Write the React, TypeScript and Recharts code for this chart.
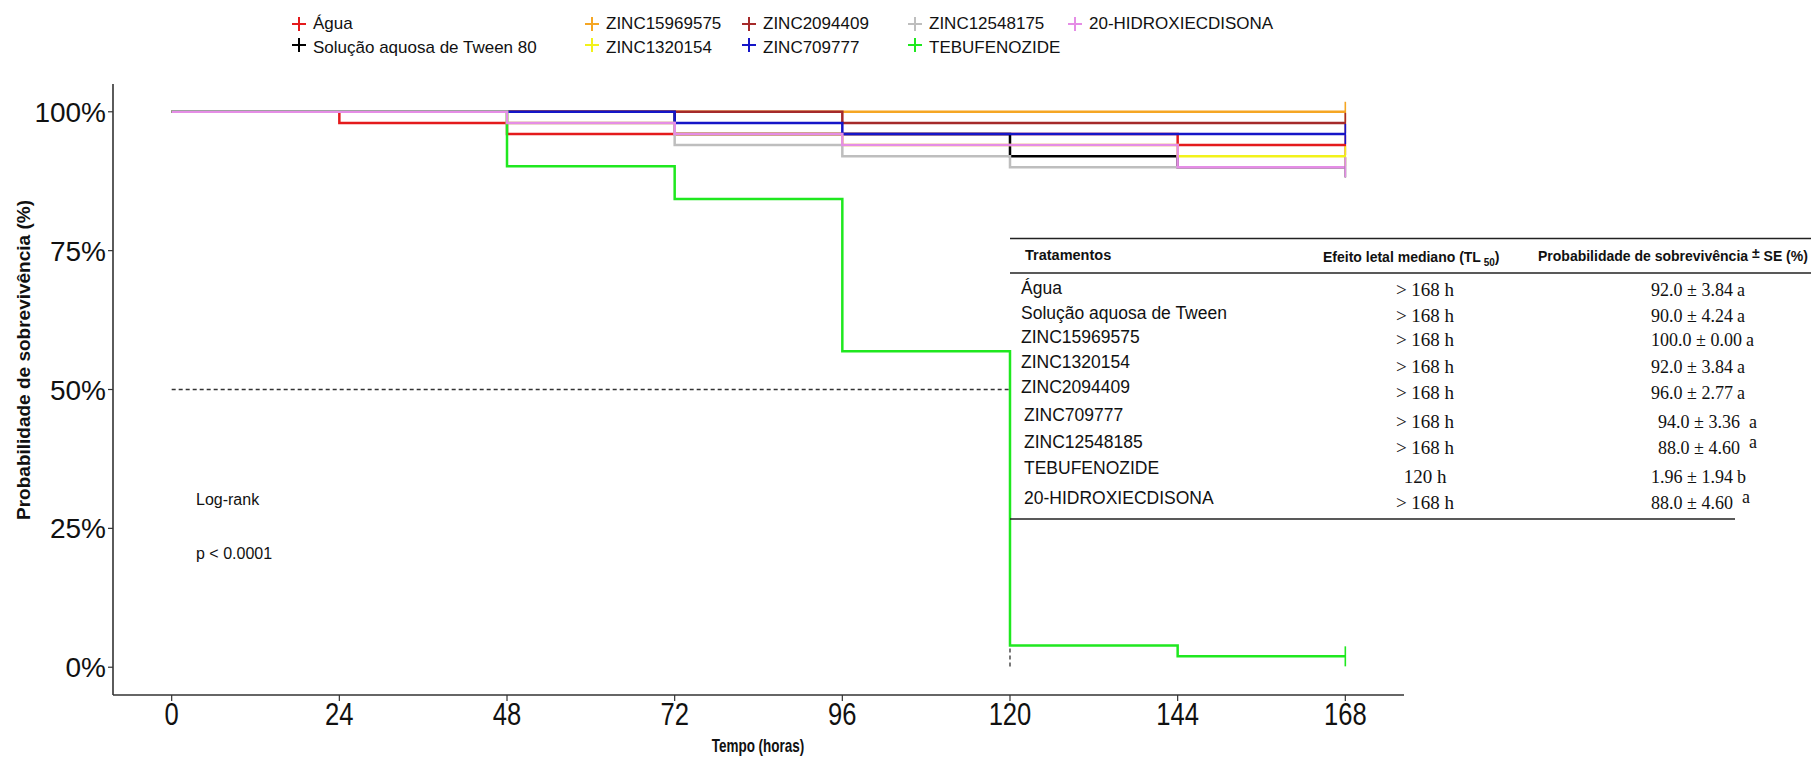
import React from 'react';
import { LineChart, Line, XAxis, YAxis, ReferenceLine } from 'recharts';

// ---------- data ----------
const times = [0, 24, 48, 72, 96, 120, 144, 168];
const agua = [100, 98, 96, 96, 96, 96, 94, 94];
const tween = [100, 100, 100, 96, 96, 92, 90, 90];
const zinc15969575 = [100, 100, 100, 100, 100, 100, 100, 100];
const zinc1320154 = [100, 100, 98, 96, 94, 94, 92, 92];
const zinc2094409 = [100, 100, 100, 100, 98, 98, 98, 98];
const zinc709777 = [100, 100, 100, 98, 96, 96, 96, 96];
const zinc12548175 = [100, 100, 98, 94, 92, 90, 90, 90];
const tebufenozide = [100, 100, 90.2, 84.3, 56.9, 3.9, 1.96, 1.96];
const hidroxiecdisona = [100, 100, 98, 96, 94, 94, 90, 90];

const yTicks = [0, 25, 50, 75, 100];

const legendNames = [
  'Água',
  'Solução aquosa de Tween 80',
  'ZINC15969575',
  'ZINC1320154',
  'ZINC2094409',
  'ZINC709777',
  'ZINC12548175',
  'TEBUFENOZIDE',
  '20-HIDROXIECDISONA',
];

const tableNames = [
  'Água',
  'Solução aquosa de Tween',
  'ZINC15969575',
  'ZINC1320154',
  'ZINC2094409',
  'ZINC709777',
  'ZINC12548185',
  'TEBUFENOZIDE',
  '20-HIDROXIECDISONA',
];
const tl50 = ['> 168 h', '> 168 h', '> 168 h', '> 168 h', '> 168 h', '> 168 h', '> 168 h', '120 h', '> 168 h'];
const survMain = ['92.0 ± 3.84', '90.0 ± 4.24', '100.0 ± 0.00', '92.0 ± 3.84', '96.0 ± 2.77', '94.0 ± 3.36', '88.0 ± 4.60', '1.96 ± 1.94', '88.0 ± 4.60'];
const survLetter = ['a', 'a', 'a', 'a', 'a', 'a', 'a', 'b', 'a'];

const seriesValues = [agua, tween, zinc15969575, zinc1320154, zinc2094409, zinc709777, zinc12548175, tebufenozide, hidroxiecdisona];

// ---------- styles ----------
const colors = ['#e41a1c', '#000000', '#f5a623', '#f2f21a', '#a52a2a', '#1515c8', '#bebebe', '#1fe81f', '#e58de6'];
const SANS = '"Liberation Sans", Arial, Helvetica, sans-serif';
const SERIF = '"Liberation Serif", "Times New Roman", serif';

const data = times.map((t, i) => {
  const row: any = { t };
  seriesValues.forEach((s, k) => {
    row['s' + k] = s[i];
  });
  return row;
});

const lastIndex = times.length - 1;

const makeCensor = (color: string) => (props: any) => {
  const { cx, cy, index } = props;
  if (index !== lastIndex || cx == null || cy == null) return <g key={'c' + index} />;
  return <line key={'c' + index} x1={cx} x2={cx} y1={cy - 10} y2={cy + 10} stroke={color} strokeWidth={1.6} />;
};

const XTick = (props: any) => {
  const { x, y, payload } = props;
  return (
    <text
      transform={`translate(${x},${y + 22}) scale(0.8,1)`}
      textAnchor="middle"
      fontFamily={SANS}
      fontSize={32}
      fill="#111"
    >
      {payload.value}
    </text>
  );
};

const YTick = (props: any) => {
  const { x, y, payload } = props;
  return (
    <text x={x} y={y} dy="0.36em" textAnchor="end" fontFamily={SANS} fontSize={28} fill="#111">
      {payload.value}%
    </text>
  );
};

const legendCols = [299, 592, 749, 915, 1075];
const legendMarkY = [24, 45];
const legendTextY = [29, 53];

const nameBase = [294, 319, 343, 368, 393, 421, 448, 474, 504];
const valBase = [295.5, 322, 346, 373, 399, 428, 454, 483, 509];

export default function App() {
  return (
    <div style={{ position: 'absolute', left: 0, top: 0, width: 1811, height: 766, background: '#fff' }}>
      <LineChart width={1811} height={766} data={data} margin={{ top: 84, right: 407, bottom: 0, left: 0 }}>
        <XAxis
          dataKey="t"
          type="number"
          domain={[-8.4, 176.4]}
          allowDataOverflow
          ticks={times}
          interval={0}
          height={71}
          tickSize={6}
          tickMargin={2}
          axisLine={{ stroke: '#333', strokeWidth: 1.6 }}
          tickLine={{ stroke: '#333', strokeWidth: 1.2 }}
          tick={(p: any) => <XTick {...p} />}
        />
        <YAxis
          type="number"
          domain={[-5, 105]}
          allowDataOverflow
          ticks={yTicks}
          interval={0}
          width={113}
          tickSize={5}
          tickMargin={2}
          axisLine={{ stroke: '#333', strokeWidth: 1.6 }}
          tickLine={{ stroke: '#333', strokeWidth: 1.2 }}
          tick={(p: any) => <YTick {...p} />}
        />
        <ReferenceLine
          segment={[{ x: 0, y: 50 }, { x: 120, y: 50 }]}
          stroke="#333"
          strokeWidth={1.3}
          strokeDasharray="4 3"
          ifOverflow="visible"
        />
        <ReferenceLine
          segment={[{ x: 120, y: 50 }, { x: 120, y: 0 }]}
          stroke="#333"
          strokeWidth={1.3}
          strokeDasharray="4 3"
          ifOverflow="visible"
        />
        {seriesValues.map((_, k) => (
          <Line
            key={k}
            type="stepAfter"
            dataKey={'s' + k}
            stroke={colors[k]}
            strokeWidth={2.5}
            dot={makeCensor(colors[k])}
            activeDot={false}
            isAnimationActive={false}
            strokeLinejoin="miter"
          />
        ))}
      </LineChart>

      <svg
        width={1811}
        height={766}
        style={{ position: 'absolute', left: 0, top: 0, pointerEvents: 'none' }}
      >
        {/* legend */}
        {legendNames.map((name, i) => {
          const col = Math.floor(i / 2);
          const row = i % 2;
          const mx = legendCols[col];
          const my = legendMarkY[row];
          return (
            <g key={name}>
              <line x1={mx - 7} x2={mx + 7} y1={my} y2={my} stroke={colors[i]} strokeWidth={2} />
              <line x1={mx} x2={mx} y1={my - 7} y2={my + 7} stroke={colors[i]} strokeWidth={2} />
              <text x={mx + 14} y={legendTextY[row]} fontFamily={SANS} fontSize={17} fill="#111">
                {name}
              </text>
            </g>
          );
        })}

        {/* y-axis title */}
        <text
          transform="translate(30,360) rotate(-90)"
          textAnchor="middle"
          fontFamily={SANS}
          fontWeight="bold"
          fontSize={19}
          fill="#111"
        >
          Probabilidade de sobrevivência (%)
        </text>

        {/* x-axis title */}
        <text
          transform="translate(758,752) scale(0.75,1)"
          textAnchor="middle"
          fontFamily={SANS}
          fontWeight="bold"
          fontSize={18}
          fill="#111"
        >
          Tempo (horas)
        </text>

        {/* log-rank */}
        <text x={196} y={505} fontFamily={SANS} fontSize={16} fill="#111">Log-rank</text>
        <text x={196} y={559} fontFamily={SANS} fontSize={16} fill="#111">p &lt; 0.0001</text>

        {/* table */}
        <line x1={1010} x2={1811} y1={238.5} y2={238.5} stroke="#222" strokeWidth={1.3} />
        <line x1={1010} x2={1811} y1={273} y2={273} stroke="#222" strokeWidth={1.3} />
        <line x1={1010} x2={1735} y1={519} y2={519} stroke="#222" strokeWidth={1.3} />

        <text x={1025} y={260} fontFamily={SANS} fontWeight="bold" fontSize={14.5} fill="#111">Tratamentos</text>
        <text x={1323} y={262} fontFamily={SANS} fontWeight="bold" fontSize={14} fill="#111">
          Efeito letal mediano (TL
          <tspan fontSize={10} dy={4}> 50</tspan>
          <tspan dy={-4}>)</tspan>
        </text>
        <text x={1538} y={261} fontFamily={SANS} fontWeight="bold" fontSize={14} fill="#111">
          Probabilidade de sobrevivência <tspan dy={-3}>±</tspan><tspan dy={3}> SE (%)</tspan>
        </text>

        {tableNames.map((n, i) => (
          <text key={n} x={i < 5 ? 1021 : 1024} y={nameBase[i]} fontFamily={SANS} fontSize={17.5} fill="#111">
            {n}
          </text>
        ))}
        {tl50.map((v, i) => (
          <text key={'tl' + i} x={1425} y={valBase[i]} textAnchor="middle" fontFamily={SERIF} fontSize={19} fill="#111">
            {v}
          </text>
        ))}
        {survMain.map((v, i) => {
          const odd = i === 5 || i === 6 || i === 8;
          const raised = i === 6 || i === 8;
          return (
            <text
              key={'sv' + i}
              x={odd && i !== 8 ? 1658 : 1651}
              y={valBase[i]}
              fontFamily={SERIF}
              fontSize={18}
              fill="#111"
            >
              {v}
              <tspan dx={odd ? 9 : 4} dy={raised ? -6 : 0}>{survLetter[i]}</tspan>
            </text>
          );
        })}
      </svg>
    </div>
  );
}
